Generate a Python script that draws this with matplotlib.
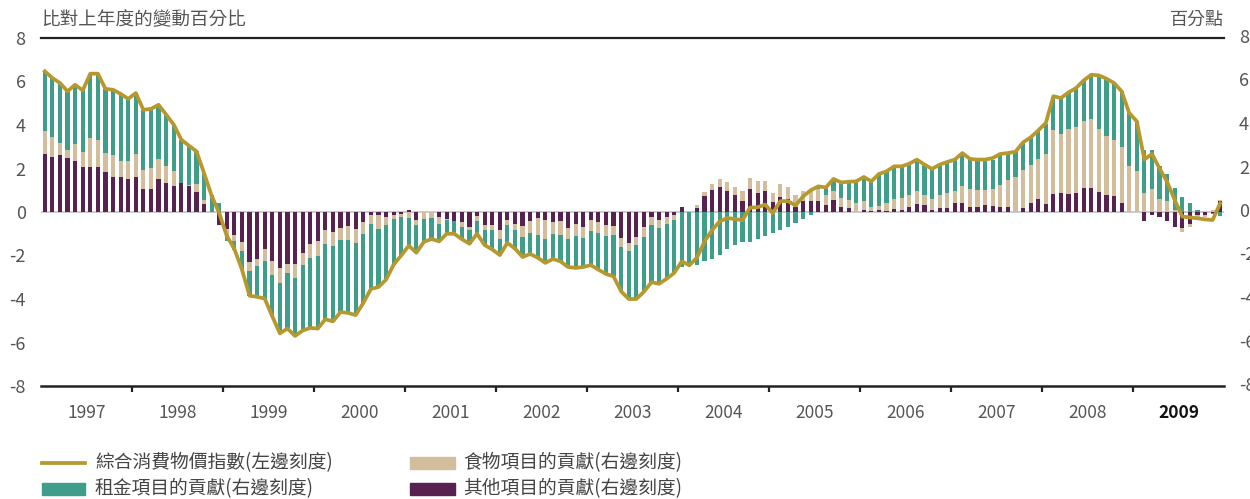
import numpy as np
import matplotlib
matplotlib.use('Agg')
import matplotlib.pyplot as plt
from matplotlib.lines import Line2D
from matplotlib.patches import Rectangle
from matplotlib.transforms import blended_transform_factory

plt.rcParams['font.family'] = ['Noto Sans CJK TC', 'DejaVu Sans']

# 月度數據 1997年1月 - 2009年12月
years = ['1997', '1998', '1999', '2000', '2001', '2002', '2003',
         '2004', '2005', '2006', '2007', '2008', '2009']

other = [
    2.68, 2.54, 2.64, 2.50, 2.36, 2.05, 2.05, 2.05, 1.82, 1.59, 1.59, 1.50,
    1.59, 1.04, 1.04, 1.53, 1.35, 1.18, 1.32, 1.21, 0.93, 0.38, 0.00, -0.61,
    -0.78, -1.04, -1.40, -2.28, -2.16, -1.70, -2.24, -2.57, -2.38, -2.38, -1.89, -1.46,
    -1.35, -0.81, -0.92, -0.74, -0.66, -0.77, -0.46, -0.15, -0.15, -0.23, -0.12, -0.10,
    0.10, -0.35, 0.00, 0.00, -0.23, -0.31, -0.43, -0.48, -0.69, -0.17, -0.58, -0.58,
    -0.81, -0.35, -0.54, -0.63, -0.40, -0.26, -0.35, -0.44, -0.40, -0.72, -0.54, -0.67,
    -0.35, -0.44, -0.58, -0.63, -1.18, -1.41, -1.13, -0.67, -0.21, -0.35, -0.21, -0.15,
    0.25, 0.00, 0.20, 0.75, 1.03, 1.16, 0.98, 0.80, 0.52, 1.07, 0.89, 0.98,
    0.48, 0.70, 0.61, 0.25, 0.52, 0.52, 0.52, 0.34, 0.57, 0.25, 0.20, 0.00,
    0.11, 0.06, 0.11, 0.06, 0.15, 0.11, 0.25, 0.38, 0.34, 0.11, 0.20, 0.20,
    0.43, 0.43, 0.25, 0.25, 0.34, 0.29, 0.25, 0.25, 0.00, 0.20, 0.43, 0.61,
    0.38, 0.84, 0.89, 0.84, 0.89, 1.12, 1.12, 0.93, 0.80, 0.75, 0.43, 0.00,
    0.00, -0.43, -0.15, -0.25, -0.43, -0.70, -0.74, -0.55, -0.15, -0.12, -0.05, 0.49,
]

food = [
    1.06, 0.92, 0.55, 0.37, 0.78, 0.72, 1.37, 1.28, 0.89, 1.05, 0.77, 0.86,
    1.08, 0.91, 1.00, 0.92, 0.78, 0.72, 0.03, 0.03, 0.37, 0.19, 0.00, 0.00,
    -0.26, -0.31, -0.41, -0.42, -0.31, -0.57, -0.64, -0.69, -0.42, -0.65, -0.53, -0.65,
    -0.65, -0.65, -0.66, -0.53, -0.61, -0.66, -0.54, -0.39, -0.62, -0.35, -0.19, -0.15,
    -0.28, -0.23, -0.31, -0.28, -0.31, -0.05, 0.06, -0.21, -0.15, -0.26, -0.23, -0.23,
    -0.42, -0.23, -0.27, -0.50, -0.55, -0.78, -0.88, -0.56, -0.64, -0.51, -0.55, -0.51,
    -0.51, -0.51, -0.51, -0.41, -0.41, -0.37, -0.37, -0.46, -0.37, -0.37, -0.33, -0.20,
    0.00, 0.00, 0.14, 0.18, 0.27, 0.37, 0.41, 0.36, 0.46, 0.51, 0.55, 0.46,
    0.41, 0.60, 0.55, 0.55, 0.46, 0.48, 0.55, 0.46, 0.41, 0.41, 0.37, 0.43,
    0.41, 0.19, 0.18, 0.37, 0.46, 0.55, 0.55, 0.60, 0.46, 0.50, 0.60, 0.69,
    0.55, 0.78, 0.82, 0.78, 0.69, 0.78, 1.01, 1.24, 1.62, 1.75, 1.75, 1.84,
    2.30, 2.95, 2.71, 2.99, 3.03, 3.08, 3.17, 2.90, 2.71, 2.58, 2.57, 2.13,
    1.90, 0.89, 1.07, 0.61, 0.52, 0.11, -0.18, -0.14, -0.23, -0.11, 0.10, 0.08,
]

rent = [
    2.73, 2.70, 2.74, 2.68, 2.71, 2.82, 2.94, 3.03, 2.95, 2.98, 3.07, 2.84,
    2.80, 2.75, 2.70, 2.48, 2.35, 2.12, 1.98, 1.81, 1.49, 1.22, 0.80, 0.41,
    -0.30, -0.38, -0.84, -1.18, -1.41, -1.76, -1.92, -2.30, -2.53, -2.61, -3.03, -3.22,
    -3.33, -3.49, -3.45, -3.34, -3.37, -3.29, -3.18, -3.00, -2.68, -2.53, -2.11, -1.79,
    -1.30, -1.31, -1.04, -0.96, -0.81, -0.64, -0.57, -0.58, -0.62, -0.57, -0.69, -0.92,
    -0.73, -0.85, -0.92, -0.94, -0.97, -1.07, -1.11, -1.16, -1.23, -1.30, -1.48, -1.35,
    -1.58, -1.70, -1.76, -1.92, -2.06, -2.25, -2.53, -2.56, -2.68, -2.58, -2.53, -2.45,
    -2.53, -2.45, -2.42, -2.27, -2.15, -1.96, -1.69, -1.50, -1.36, -1.36, -1.23, -1.09,
    -0.95, -0.81, -0.67, -0.49, -0.31, -0.12, 0.11, 0.30, 0.51, 0.70, 0.84, 0.98,
    1.04, 1.16, 1.46, 1.44, 1.49, 1.44, 1.42, 1.43, 1.38, 1.37, 1.38, 1.41,
    1.43, 1.50, 1.37, 1.38, 1.30, 1.34, 1.35, 1.19, 1.12, 1.22, 1.25, 1.30,
    1.38, 1.48, 1.61, 1.64, 1.78, 1.85, 2.02, 2.45, 2.62, 2.60, 2.55, 2.42,
    2.27, 1.95, 1.77, 1.52, 1.24, 1.01, 0.70, 0.43, 0.11, 0.00, -0.05, -0.20,
]

cpi = [
    6.47, 6.16, 5.93, 5.55, 5.85, 5.59, 6.36, 6.36, 5.66, 5.62, 5.43, 5.20,
    5.47, 4.70, 4.74, 4.93, 4.48, 4.02, 3.33, 3.05, 2.79, 1.79, 0.75, -0.05,
    -1.10, -1.70, -2.65, -3.85, -3.90, -3.98, -4.80, -5.58, -5.36, -5.70, -5.45, -5.33,
    -5.36, -4.93, -5.03, -4.60, -4.64, -4.74, -4.18, -3.54, -3.45, -3.11, -2.42, -2.00,
    -1.55, -1.87, -1.37, -1.24, -1.35, -1.00, -1.00, -1.25, -1.46, -1.00, -1.52, -1.72,
    -1.98, -1.42, -1.68, -2.07, -1.93, -2.10, -2.34, -2.16, -2.27, -2.53, -2.57, -2.53,
    -2.44, -2.65, -2.85, -2.96, -3.65, -4.00, -4.00, -3.67, -3.23, -3.30, -3.07, -2.80,
    -2.27, -2.45, -2.10, -1.35, -0.83, -0.43, -0.28, -0.32, -0.38, 0.20, 0.22, 0.34,
    -0.05, 0.50, 0.50, 0.30, 0.72, 1.00, 1.18, 1.13, 1.52, 1.36, 1.39, 1.41,
    1.61, 1.41, 1.75, 1.87, 2.10, 2.10, 2.22, 2.41, 2.18, 1.98, 2.18, 2.30,
    2.41, 2.71, 2.44, 2.41, 2.41, 2.48, 2.67, 2.71, 2.77, 3.20, 3.43, 3.75,
    4.09, 5.32, 5.24, 5.50, 5.70, 6.05, 6.31, 6.28, 6.13, 5.93, 5.55, 4.55,
    4.17, 2.41, 2.67, 2.00, 1.39, 0.55, -0.21, -0.25, -0.29, -0.34, -0.37, 0.40,
]

labels = ['綜合消費物價指數(左邊刻度)', '食物項目的貢獻(右邊刻度)',
          '租金項目的貢獻(右邊刻度)', '其他項目的貢獻(右邊刻度)']

c_line = '#B7982F'
c_food = '#D2BE9C'
c_rent = '#3F9E89'
c_other = '#57224F'
grey = '#555555'

W, H = 1250, 499
fig = plt.figure(figsize=(W / 100, H / 100), dpi=100)
ax = fig.add_axes([41 / W, 1 - 386 / H, (1224 - 41) / W, (386 - 38) / H])

x = np.arange(len(cpi))
pos_base = np.zeros(len(x))
neg_base = np.zeros(len(x))
for vals, c in [(other, c_other), (food, c_food), (rent, c_rent)]:
    v = np.array(vals)
    p = np.where(v > 0, v, 0)
    n = np.where(v < 0, v, 0)
    ax.bar(x, p, 0.55, bottom=pos_base, color=c, zorder=2, linewidth=0)
    ax.bar(x, n, 0.55, bottom=neg_base, color=c, zorder=2, linewidth=0)
    pos_base += p
    neg_base += n

ax.axhline(0, color='#bdbdbd', lw=1.1, zorder=1)
ax.plot(x, cpi, color=c_line, lw=2.7, zorder=5, solid_joinstyle='round')

ax.set_xlim(-0.5, len(x) - 0.5)
ax.set_ylim(-8, 8)

for s in ['left', 'right']:
    ax.spines[s].set_visible(False)
ax.spines['top'].set_color('#222222')
ax.spines['top'].set_linewidth(1.6)
ax.spines['bottom'].set_color('#222222')
ax.spines['bottom'].set_linewidth(1.8)

ax.set_xticks([11.5 + 12 * k for k in range(12)])
ax.set_xticklabels([])
ax.tick_params(axis='x', direction='out', length=4, width=1.6, color='#222222')

yt = list(range(-8, 9, 2))
ax.set_yticks(yt)
ax.set_yticklabels([str(v) for v in yt], color=grey, fontsize=13)
ax.tick_params(axis='y', length=0, pad=11)

# 右邊刻度
tr_r = blended_transform_factory(fig.transFigure, ax.transData)
for v in yt:
    ax.text(1239 / W, v, str(v), transform=tr_r, ha='left', va='center',
            color=grey, fontsize=13)

# 年份
tr_x = blended_transform_factory(ax.transData, fig.transFigure)
for k, yr in enumerate(years):
    bold = yr == '2009'
    ax.text(5.5 + 12 * k, 1 - 413 / H, yr, transform=tr_x, ha='center', va='center',
            fontsize=12.5, color='#111111' if bold else grey,
            fontweight='bold' if bold else 'normal')

fig.text(41 / W, 1 - 20 / H, '比對上年度的變動百分比', ha='left', va='center',
         fontsize=13.4, color=grey)
fig.text(1224 / W, 1 - 20 / H, '百分點', ha='right', va='center',
         fontsize=13, color=grey)

# 圖例
r1, r2 = 1 - 463 / H, 1 - 489 / H
fig.add_artist(Line2D([42 / W, 85 / W], [r1, r1], color=c_line, lw=2.7,
                      transform=fig.transFigure))
ph = 12 / H
fig.add_artist(Rectangle((410 / W, r1 - ph / 2), 45 / W, ph, color=c_food,
                         transform=fig.transFigure))
fig.add_artist(Rectangle((42 / W, r2 - ph / 2), 43 / W, ph, color=c_rent,
                         transform=fig.transFigure))
fig.add_artist(Rectangle((410 / W, r2 - ph / 2), 45 / W, ph, color=c_other,
                         transform=fig.transFigure))
lf = 13.5
fig.text(95 / W, r1, labels[0], ha='left', va='center', fontsize=lf, color='#444444')
fig.text(463 / W, r1, labels[1], ha='left', va='center', fontsize=lf, color='#444444')
fig.text(95 / W, r2, labels[2], ha='left', va='center', fontsize=lf, color='#444444')
fig.text(463 / W, r2, labels[3], ha='left', va='center', fontsize=lf, color='#444444')

fig.savefig('out.png', dpi=100)
